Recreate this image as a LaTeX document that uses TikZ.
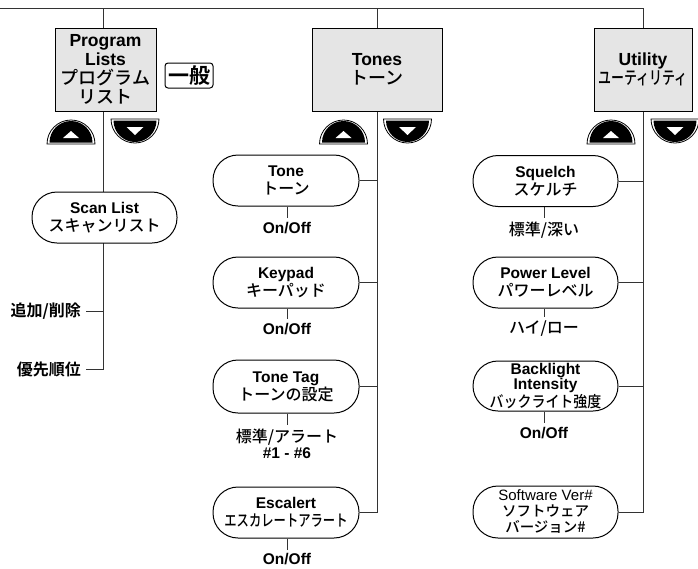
\documentclass[tikz,border=0pt]{standalone}
\usepackage{fontspec}
\setmainfont{Liberation Sans}
\newfontfamily\jp{Noto Sans CJK JP}[UprightFont=* Medium, BoldFont=* Bold]
\usepackage{graphicx}
\usetikzlibrary{backgrounds}
\newcommand\hdrfont{\fontsize{17.5}{19}\selectfont\bfseries}
\newcommand\pillfont{\fontsize{15.5}{18}\selectfont\bfseries}
\newcommand\jpn[1]{{\jp\mdseries\fontsize{16}{18}\selectfont #1}}
\newcommand\jph[1]{{\jp\mdseries\fontsize{18}{19}\selectfont #1}}
\tikzset{
  conn/.style={draw=black!80, line width=1pt},
  hdr/.style={draw=black, line width=1pt, fill=gray!20, inner sep=0pt, align=center, font=\hdrfont, minimum height=83pt},
  pill/.style={draw=black, line width=1pt, fill=white, rounded corners=25pt, minimum width=146pt, minimum height=51pt, inner sep=0pt, align=center, font=\pillfont},
  val/.style={inner sep=4pt, align=center, font=\fontsize{15.5}{16}\selectfont\bfseries},
  side/.style={inner sep=0pt, font=\jp\bfseries\fontsize{16}{18}\selectfont},
  upbtn/.pic={
    \draw[line width=0.8pt, fill=white] (-24,0) arc[start angle=180, end angle=0, radius=24pt] -- cycle;
    \fill[black] (-21.5,-1.5) arc[start angle=180, end angle=0, radius=21.5pt] -- cycle;
    \fill[white] (-8,-6) -- (8,-6) -- (0,-13) -- cycle;
  },
  dnbtn/.pic={
    \draw[line width=0.8pt, fill=white] (-24,0) arc[start angle=180, end angle=360, radius=24pt] -- cycle;
    \fill[black] (-21.5,1.5) arc[start angle=180, end angle=360, radius=21.5pt] -- cycle;
    \fill[white] (-8.5,8) -- (8.5,8) -- (0,16) -- cycle;
  }
}
\begin{document}
\begin{tikzpicture}[x=1pt,y=-1pt]
\useasboundingbox (0,0) rectangle (698,568);
\coordinate (tl) at (0,8);
\coordinate (pcol) at (103,8);
\coordinate (tcol) at (377,8);
\coordinate (ucol) at (643,8);

% headers
\node[hdr, minimum width=101pt] (prog) at (105.5,69.5) {Program\\Lists\\\jph{プログラム}\\\jph{リスト}};
\node[hdr, minimum width=130pt] (tones) at (377,69.5) {Tones\\\jph{トーン}};
\node[hdr, minimum width=98pt] (util) at (643,69.5) {Utility\\\jph{\scalebox{0.72}[1]{ユーティリティ}}};
\node[draw=black, line width=1pt, rounded corners=3pt, minimum width=48pt, minimum height=25pt, inner sep=0pt, font=\jp\bfseries\fontsize{21}{21}\selectfont] (ippan) at (189,75.5) {一般};

% buttons
\pic at (71,144) {upbtn};
\pic at (135,119) {dnbtn};
\pic at (343.5,144) {upbtn};
\pic at (407.5,119) {dnbtn};
\pic at (611,144) {upbtn};
\pic at (675,119) {dnbtn};

% program lists column
\node[pill, minimum width=145pt] (scan) at (104.5,217.5) {Scan List\\\jpn{スキャンリスト}};
\node[side, anchor=east] (add) at (81,311.5) {追加/削除};
\node[side, anchor=east] (prio) at (81,369) {優先順位};

% tones column
\node[pill] (tone) at (286,180.5) {Tone\\\jpn{トーン}};
\node[val] (tonev) at (287,228) {On/Off};
\node[pill] (keyp) at (286,282.5) {Keypad\\\jpn{キーパッド}};
\node[val] (keypv) at (287,329) {On/Off};
\node[pill, minimum height=53pt] (ttag) at (286,386.5) {Tone Tag\\\jpn{トーンの設定}};
\node[val] (ttagv) at (287,444) {\jpn{標準/アラート}\\\#1 - \#6};
\node[pill] (esc) at (286,512.5) {Escalert\\\jpn{\scalebox{0.77}[1]{エスカレートアラート}}};
\node[val] (escv) at (287,559.5) {On/Off};

% utility column
\node[pill, minimum width=145pt] (squ) at (545.5,181) {Squelch\\\jpn{スケルチ}};
\node[val] (squv) at (544,230) {\jpn{標準/深い}};
\node[pill, minimum width=145pt] (pwr) at (545.5,282.5) {Power Level\\\jpn{パワーレベル}};
\node[val] (pwrv) at (544,329) {\jpn{ハイ/ロー}};
\node[pill, minimum width=145pt, minimum height=50pt, font=\fontsize{15.5}{15}\selectfont\bfseries] (bl) at (545.5,386) {Backlight\\Intensity\\{\jp\mdseries\fontsize{15.5}{15}\selectfont\scalebox{0.9}[1]{バックライト強度}}};
\node[val] (blv) at (544,433) {On/Off};
\node[pill, minimum width=145pt, minimum height=52pt, font=\fontsize{15}{16}\selectfont] (sw) at (545.5,512) {Software Ver\#\\{\jp\fontsize{14.5}{16}\selectfont ソフトウェア}\\{\jp\fontsize{14.5}{16}\selectfont バージョン\#}};

\begin{scope}[on background layer]
  \draw[conn] (tl) -- (ucol);
  \draw[conn] (pcol) -- (pcol |- prio.east) -- ([xshift=5pt]prio.east);
  \draw[conn] ([xshift=5pt]add.east) -- (add.east -| pcol);
  \draw[conn] (tcol) -- (tcol |- esc.east) -- (esc.east);
  \draw[conn] (tone.east) -- (tone.east -| tcol);
  \draw[conn] (keyp.east) -- (keyp.east -| tcol);
  \draw[conn] (ttag.east) -- (ttag.east -| tcol);
  \draw[conn] (ucol) -- (ucol |- sw.east) -- (sw.east);
  \draw[conn] (squ.east) -- (squ.east -| ucol);
  \draw[conn] (pwr.east) -- (pwr.east -| ucol);
  \draw[conn] (bl.east) -- (bl.east -| ucol);
  \draw[conn] (tone.south -| tonev.north) -- (tonev.north);
  \draw[conn] (keyp.south -| keypv.north) -- (keypv.north);
  \draw[conn] (ttag.south -| ttagv.north) -- (ttagv.north);
  \draw[conn] (esc.south -| escv.north) -- (escv.north);
  \draw[conn] (squ.south -| squv.north) -- (squv.north);
  \draw[conn] (pwr.south -| pwrv.north) -- (pwrv.north);
  \draw[conn] (bl.south -| blv.north) -- (blv.north);
\end{scope}
\end{tikzpicture}
\end{document}
